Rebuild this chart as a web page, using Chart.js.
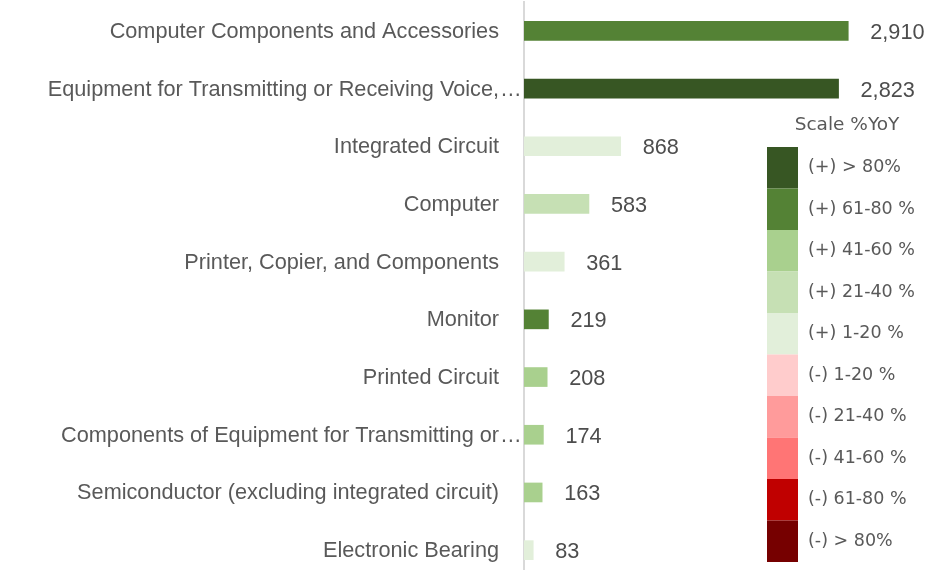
<!DOCTYPE html>
<html>
<head>
<meta charset="utf-8">
<script src="https://cdn.jsdelivr.net/npm/chart.js@4/dist/chart.umd.min.js"></script>
<style>
  html, body { margin: 0; padding: 0; background: #fff; overflow: hidden; }
  #wrap { width: 943px; height: 580px; }
</style>
</head>
<body>
<div id="wrap"><canvas id="productChart"></canvas></div>
<script>
const categories = [
  "Computer Components and Accessories",
  "Equipment for Transmitting or Receiving Voice,",
  "Integrated Circuit",
  "Computer",
  "Printer, Copier, and Components",
  "Monitor",
  "Printed Circuit",
  "Components of Equipment for Transmitting or",
  "Semiconductor (excluding integrated circuit)",
  "Electronic Bearing"
];
const truncated = [false, true, false, false, false, false, false, true, false, false];
const values = [2910, 2823, 868, 583, 361, 219, 208, 174, 163, 83];
// growth band index per bar (0 = (+) > 80% ... 9 = (-) > 80%)
const bands = [1, 0, 4, 3, 4, 1, 2, 2, 2, 4];

const scaleTitle = "Scale %YoY";
const scaleLabels = [
  "(+) > 80%", "(+) 61-80 %", "(+) 41-60 %", "(+) 21-40 %", "(+) 1-20 %",
  "(-) 1-20 %", "(-) 21-40 %", "(-) 41-60 %", "(-) 61-80 %", "(-) > 80%"
];
const scaleColors = [
  "#375623", "#548235", "#a9d08e", "#c6e0b4", "#e2efda",
  "#ffcccc", "#ff9b9b", "#ff7575", "#c00000", "#760000"
];

const labelFont = "21.7px 'Liberation Sans', Arial, sans-serif";
const textColor = "#595959";

// category labels, value labels and the colour scale box
const annotate = {
  id: "annotate",
  afterDraw(chart) {
    const ctx = chart.ctx;
    const yScale = chart.scales.y;
    const left = chart.chartArea.left;
    const meta = chart.getDatasetMeta(0);
    ctx.save();
    ctx.font = labelFont;
    ctx.textBaseline = "middle";

    categories.forEach((name, i) => {
      const y = yScale.getPixelForValue(i) + 1;
      ctx.fillStyle = textColor;
      ctx.textAlign = "right";
      ctx.fillText(name, left - 25, y);
      if (truncated[i]) {
        ctx.textAlign = "left";
        ctx.fillText("\u2026", left - 24, y);
      }
    });

    ctx.fillStyle = "#4d4d4d";
    ctx.textAlign = "left";
    meta.data.forEach((bar, i) => {
      ctx.fillText(values[i].toLocaleString("en-US"), bar.x + 22, bar.y + 2);
    });

    // colour scale legend
    const boxX = 767, boxW = 31, boxTop = 147, rowH = 41.5;
    ctx.fillStyle = textColor;
    ctx.textAlign = "center";
    ctx.font = "18.5px 'DejaVu Sans', Verdana, sans-serif";
    ctx.fillText(scaleTitle, 847, 125);
    ctx.font = "17.5px 'DejaVu Sans', Verdana, sans-serif";
    ctx.textAlign = "left";
    scaleLabels.forEach((lab, i) => {
      const top = boxTop + i * rowH;
      ctx.fillStyle = scaleColors[i];
      ctx.fillRect(boxX, top, boxW, rowH);
      ctx.fillStyle = textColor;
      ctx.fillText(lab, 808, top + rowH / 2);
    });
    ctx.restore();
  }
};

new Chart(document.getElementById("productChart"), {
  type: "bar",
  data: {
    labels: categories,
    datasets: [{
      data: values,
      backgroundColor: bands.map((b) => scaleColors[b]),
      barThickness: 19
    }]
  },
  options: {
    indexAxis: "y",
    responsive: true,
    maintainAspectRatio: false,
    animation: false,
    layout: { padding: { top: 2, bottom: 1, right: 29, left: 0 } },
    plugins: {
      legend: { display: false },
      tooltip: { enabled: false }
    },
    scales: {
      x: {
        display: false,
        min: 0,
        max: 3500
      },
      y: {
        grid: { display: false, drawTicks: false },
        border: { display: true, color: "#d9d9d9", width: 2 },
        ticks: { display: false },
        afterFit(scale) { scale.width = 524; }
      }
    }
  },
  plugins: [annotate]
});
</script>
</body>
</html>
